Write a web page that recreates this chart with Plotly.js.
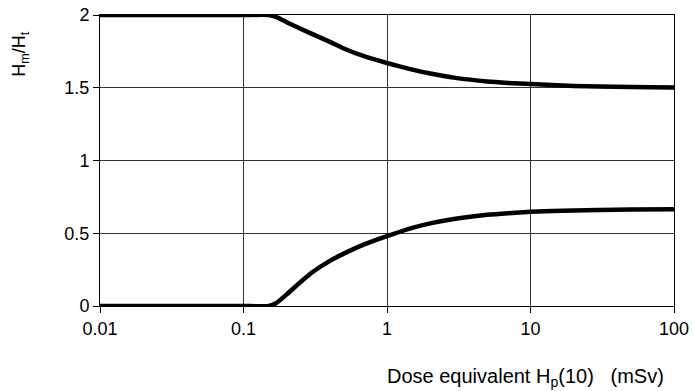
<!DOCTYPE html>
<html>
<head>
<meta charset="utf-8">
<script src="https://cdn.plot.ly/plotly-3.0.1.min.js"></script>
<style>html,body{margin:0;padding:0;background:#fff;}#chart{width:693px;height:391px;}</style>
</head>
<body>
<div id="chart"></div>
<script>
const doseX = [0.01, 0.02, 0.05, 0.1, 0.15, 0.17, 0.2, 0.25, 0.3, 0.4, 0.5, 0.7, 1, 1.5, 2, 3, 5, 7, 10, 20, 30, 50, 100];
const upperRatio = [2, 2, 2, 2, 2, 1.985, 1.95, 1.905, 1.87, 1.815, 1.77, 1.715, 1.67, 1.625, 1.598, 1.568, 1.543, 1.533, 1.525, 1.512, 1.508, 1.505, 1.502];
const lowerRatio = [0, 0, 0, 0, 0, 0.022, 0.08, 0.165, 0.23, 0.31, 0.36, 0.425, 0.48, 0.537, 0.568, 0.6, 0.627, 0.638, 0.647, 0.657, 0.66, 0.663, 0.665];
const xTickVals = [0.01, 0.1, 1, 10, 100];
const xTickText = ["0.01", "0.1", "1", "10", "100"];
const yTickVals = [0, 0.5, 1, 1.5, 2];
const yTickText = ["0", "0.5", "1", "1.5", "2"];

const font = "Liberation Sans, Arial, sans-serif";
const lineStyle = {color: "#000", width: 4.5, shape: "spline", smoothing: 0.5};

const data = [
  {x: doseX, y: upperRatio, mode: "lines", line: lineStyle, hoverinfo: "skip"},
  {x: doseX, y: lowerRatio, mode: "lines", line: lineStyle, hoverinfo: "skip"}
];

const layout = {
  width: 693, height: 391,
  margin: {l: 100, r: 19, t: 15, b: 85},
  paper_bgcolor: "#fff", plot_bgcolor: "#fff",
  showlegend: false,
  font: {family: font, size: 18, color: "#000"},
  xaxis: {
    type: "log", range: [-2, 2],
    tickvals: xTickVals, ticktext: xTickText,
    showgrid: true, gridcolor: "#333", gridwidth: 1,
    showline: true, linecolor: "#000", linewidth: 1, mirror: true,
    ticks: "outside", ticklen: 6, tickcolor: "#000",
    zeroline: false, fixedrange: true
  },
  yaxis: {
    range: [0, 2],
    tickvals: yTickVals, ticktext: yTickText,
    showgrid: true, gridcolor: "#333", gridwidth: 1,
    showline: true, linecolor: "#000", linewidth: 1, mirror: true,
    ticks: "outside", ticklen: 6, tickcolor: "#000",
    zeroline: false, fixedrange: true
  },
  annotations: [
    {text: "H<sub>m</sub>/H<sub>t</sub>", xref: "paper", yref: "paper", x: -0.138, y: 0.866,
     xanchor: "center", yanchor: "middle", textangle: -90, showarrow: false, font: {size: 18}},
    {text: "Dose equivalent H<sub>p</sub>(10)   (mSv)", xref: "paper", yref: "paper", x: 0.742, y: -0.244,
     xanchor: "center", yanchor: "middle", showarrow: false, font: {size: 20}}
  ]
};

Plotly.newPlot("chart", data, layout, {displayModeBar: false, staticPlot: true});
</script>
</body>
</html>
